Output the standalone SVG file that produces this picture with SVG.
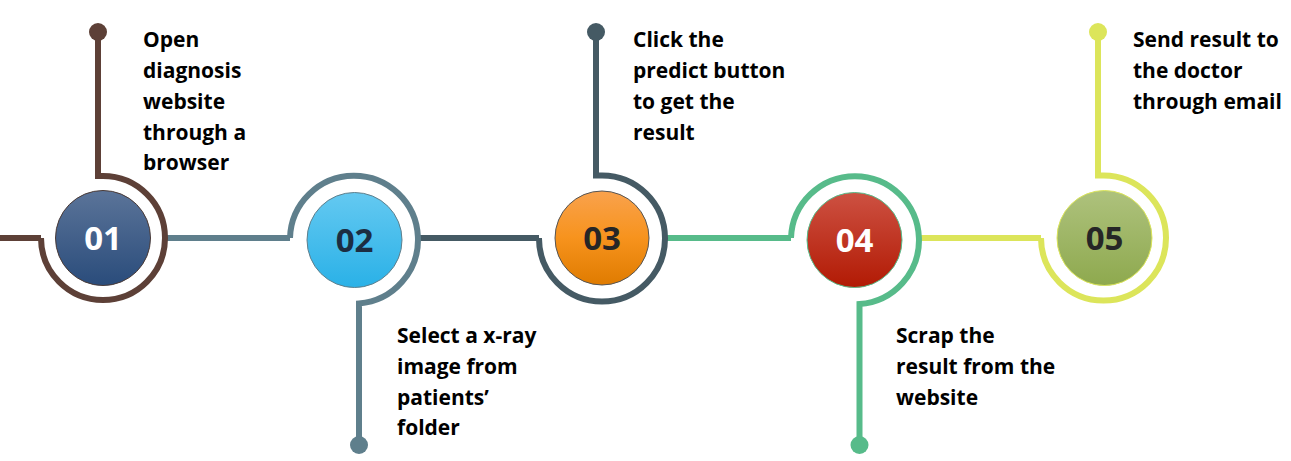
<svg xmlns="http://www.w3.org/2000/svg" width="1291" height="461" viewBox="0 0 1291 461">
  <defs>
    <linearGradient id="g1" x1="0" y1="0" x2="0" y2="1">
      <stop offset="0" stop-color="#5b7499"/>
      <stop offset="1" stop-color="#2a4c7b"/>
    </linearGradient>
    <linearGradient id="g2" x1="0" y1="0" x2="0" y2="1">
      <stop offset="0" stop-color="#64c9f1"/>
      <stop offset="1" stop-color="#2ab1e7"/>
    </linearGradient>
    <linearGradient id="g3" x1="0" y1="0" x2="0" y2="1">
      <stop offset="0" stop-color="#f9a24d"/>
      <stop offset="0.5" stop-color="#f7931d"/>
      <stop offset="1" stop-color="#df7b00"/>
    </linearGradient>
    <linearGradient id="g4" x1="0" y1="0" x2="0" y2="1">
      <stop offset="0" stop-color="#cd5142"/>
      <stop offset="1" stop-color="#b21a04"/>
    </linearGradient>
    <linearGradient id="g5" x1="0" y1="0" x2="0" y2="1">
      <stop offset="0" stop-color="#aec27d"/>
      <stop offset="1" stop-color="#8ea94e"/>
    </linearGradient>
  </defs>
  <style>
    .ring { fill: none; stroke-width: 6; }
    .lbl { font-family: "Open Sans", "Liberation Sans", sans-serif; font-weight: bold; font-size: 21px; fill: #000; }
    .num { font-family: "Open Sans", "Liberation Sans", sans-serif; font-weight: bold; font-size: 33px; text-anchor: middle; }
    .c1 { stroke: #5d4037; }
    .c2 { stroke: #5f7f8c; }
    .c3 { stroke: #455a64; }
    .c4 { stroke: #57bb8a; }
    .c5 { stroke: #dce55a; }
  </style>

  <g id="connectors" fill="none" stroke-width="6">
    <path class="c1" d="M0 238 H41"/>
    <path class="c2" d="M164 238 H290"/>
    <path class="c3" d="M416 238 H539"/>
    <path class="c4" d="M664 238 H791"/>
    <path class="c5" d="M918 238 H1041"/>
  </g>

  <g id="node01">
    <path class="ring c1" d="M98 32 V176 H103 A62 62 0 1 1 41 238"/>
    <circle cx="98" cy="32" r="9" fill="#5d4037"/>
    <circle cx="103" cy="238" r="47.5" fill="url(#g1)" stroke="#4a3a36" stroke-width="1"/>
    <text class="num" x="103" y="250" fill="#ffffff">01</text>
    <text class="lbl">
      <tspan x="143" y="47">Open</tspan>
      <tspan x="143" y="78">diagnosis</tspan>
      <tspan x="143" y="109">website</tspan>
      <tspan x="143" y="140">through a</tspan>
      <tspan x="143" y="170">browser</tspan>
    </text>
  </g>

  <g id="node02">
    <path class="ring c2" d="M290 238 A64 64 0 1 1 359 303.5 V445"/>
    <circle cx="359" cy="445" r="9" fill="#5f7f8c"/>
    <circle cx="354.5" cy="240" r="47.5" fill="url(#g2)" stroke="#5f7f8c" stroke-width="1"/>
    <text class="num" x="354.5" y="252" fill="#1c2d42">02</text>
    <text class="lbl">
      <tspan x="397" y="343">Select a x-ray</tspan>
      <tspan x="397" y="374">image from</tspan>
      <tspan x="397" y="405">patients’</tspan>
      <tspan x="397" y="435">folder</tspan>
    </text>
  </g>

  <g id="node03">
    <path class="ring c3" d="M596 32 V175.5 H601 A63 63 0 1 1 539 238"/>
    <circle cx="596" cy="32" r="9" fill="#455a64"/>
    <circle cx="602" cy="238" r="47" fill="url(#g3)" stroke="#555555" stroke-width="1"/>
    <text class="num" x="602" y="250" fill="#262626">03</text>
    <text class="lbl">
      <tspan x="633" y="47">Click the</tspan>
      <tspan x="633" y="78">predict button</tspan>
      <tspan x="633" y="109">to get the</tspan>
      <tspan x="633" y="140">result</tspan>
    </text>
  </g>

  <g id="node04">
    <path class="ring c4" d="M791 238 A64 64 0 1 1 859.5 304 V445"/>
    <circle cx="859.5" cy="445" r="9" fill="#57bb8a"/>
    <circle cx="854.5" cy="240" r="47.5" fill="url(#g4)" stroke="#57bb8a" stroke-width="1"/>
    <text class="num" x="854.5" y="252" fill="#ffffff">04</text>
    <text class="lbl">
      <tspan x="896" y="343">Scrap the</tspan>
      <tspan x="896" y="374">result from the</tspan>
      <tspan x="896" y="405">website</tspan>
    </text>
  </g>

  <g id="node05">
    <path class="ring c5" d="M1098 32 V175.5 H1103 A62.5 62.5 0 1 1 1041 238"/>
    <circle cx="1098" cy="32" r="9" fill="#dce55a"/>
    <circle cx="1104.5" cy="238" r="47.5" fill="url(#g5)" stroke="#dce55a" stroke-width="1"/>
    <text class="num" x="1104.5" y="250" fill="#262626">05</text>
    <text class="lbl">
      <tspan x="1133" y="47">Send result to</tspan>
      <tspan x="1133" y="78">the doctor</tspan>
      <tspan x="1133" y="109">through email</tspan>
    </text>
  </g>
</svg>
